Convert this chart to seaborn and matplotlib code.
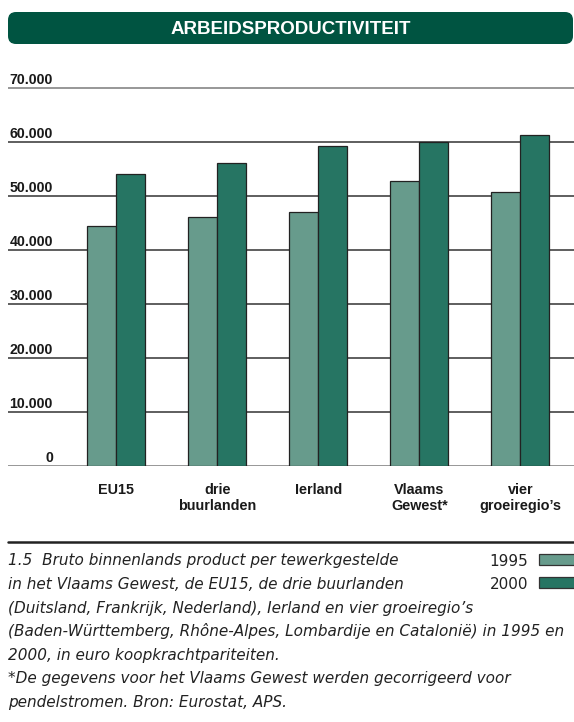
import matplotlib
matplotlib.use("Agg")
import matplotlib.pyplot as plt
import seaborn as sns
import pandas as pd
from matplotlib.patches import FancyBboxPatch, Rectangle
from matplotlib.lines import Line2D
from matplotlib.transforms import IdentityTransform, blended_transform_factory

# gegevens
regio = ["EU15", "drie\nbuurlanden", "Ierland", "Vlaams\nGewest*", "vier\ngroeiregio’s"]
jaren = ["1995", "2000"]
waarden_1995 = [44500, 46200, 47100, 52800, 50700]
waarden_2000 = [54100, 56100, 59300, 60100, 61300]
y_ticks = [0, 10000, 20000, 30000, 40000, 50000, 60000, 70000]
y_labels = ["0", "10.000", "20.000", "30.000", "40.000", "50.000", "60.000", "70.000"]
kleuren = {"1995": "#679b8c", "2000": "#267563"}

titel = "ARBEIDSPRODUCTIVITEIT"
bijschrift = [
    "1.5  Bruto binnenlands product per tewerkgestelde",
    "in het Vlaams Gewest, de EU15, de drie buurlanden",
    "(Duitsland, Frankrijk, Nederland), Ierland en vier groeiregio’s",
    "(Baden-Württemberg, Rhône-Alpes, Lombardije en Catalonië) in 1995 en",
    "2000, in euro koopkrachtpariteiten.",
    "*De gegevens voor het Vlaams Gewest werden gecorrigeerd voor",
    "pendelstromen. Bron: Eurostat, APS.",
]

df = pd.DataFrame({
    "regio": regio * 2,
    "jaar": [jaren[0]] * len(regio) + [jaren[1]] * len(regio),
    "waarde": waarden_1995 + waarden_2000,
})

sns.set_style("white")
plt.rcParams["font.family"] = ["Liberation Sans", "DejaVu Sans"]
tekst_font = ["DejaVu Sans"]

W, H = 574, 722
fig = plt.figure(figsize=(W / 100, H / 100), dpi=100)

# assen: 0 op y=466 px, 10.000 = 53.96 px
y0_px = 466
top_px = y0_px - 7.2 * 53.96
ax = fig.add_axes([8 / W, 1 - y0_px / H, 566 / W, (y0_px - top_px) / H])

for v in y_ticks:
    kleur = "#7a7a7a" if v in (0, 70000) else "#333333"
    ax.axhline(v, color=kleur, lw=1.1, zorder=0)

sns.barplot(data=df, x="regio", y="waarde", hue="jaar", palette=kleuren,
            width=0.575, gap=0, saturation=1, edgecolor="#222222",
            linewidth=0.9, legend=False, ax=ax, zorder=2)

ax.set_ylim(0, 72000)
ax.set_xlim(-1.072, 4.532)
ax.set_xlabel("")
ax.set_ylabel("")
ax.set_yticks([])
for s in ax.spines.values():
    s.set_visible(False)

ax.set_xticks(range(len(regio)))
ax.set_xticklabels(regio, fontweight="bold", fontsize=10.4, linespacing=1.15,
                   color="#1a1a1a")
ax.tick_params(axis="x", length=0, pad=12.5)

trans = blended_transform_factory(ax.transAxes, ax.transData)
for v, lab in zip(y_ticks, y_labels):
    ax.text((53 - 8) / 566, v + 830, lab, ha="right", va="baseline",
            transform=trans, fontweight="bold", fontsize=10.2, color="#1a1a1a")

# titelbalk
box = FancyBboxPatch((8, H - 44), 565, 32, boxstyle="round,pad=0,rounding_size=8",
                     transform=IdentityTransform(), fc="#005441", ec="none")
fig.add_artist(box)
fig.text(291 / W, 1 - 34.3 / H, titel, ha="center", va="baseline", color="white",
         fontweight="bold", fontsize=13.5)

# scheidingslijn
fig.add_artist(Line2D([8 / W, 1], [1 - 541.5 / H] * 2, transform=fig.transFigure,
                      color="#222222", lw=1.8))

# bijschrift
for i, regel in enumerate(bijschrift):
    fig.text(8 / W, 1 - (565.5 + 23.6 * i) / H, regel, ha="left", va="baseline",
             family=tekst_font, style="italic", fontsize=11, color="#222222")

# legende
for i, jaar in enumerate(jaren):
    basis = 565.5 + 23.2 * i
    fig.text(528 / W, 1 - basis / H, jaar, ha="right", va="baseline",
             family=tekst_font, fontsize=11, color="#222222")
    fig.add_artist(Rectangle((538.5, H - basis + 1), 40, 11, transform=IdentityTransform(),
                             fc=kleuren[jaar], ec="#333333", lw=0.9))

fig.savefig("out.png", dpi=100)
